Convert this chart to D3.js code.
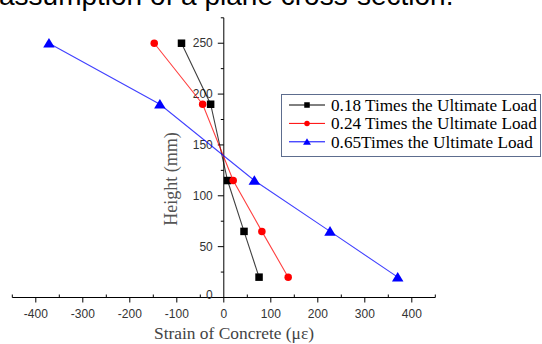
<!DOCTYPE html>
<html>
<head>
<meta charset="utf-8">
<script src="https://cdn.jsdelivr.net/npm/d3@7"></script>
<style>
  html, body { margin: 0; padding: 0; background: #fff; overflow: hidden; }
  svg { display: block; }
</style>
</head>
<body>
<div id="chart"></div>
<script>
// data
const heights = [250, 190, 115, 65, 20];
const strain018 = [-90, -28, 8, 43, 75];
const strain024 = [-148, -45, 20, 81, 137];
const strain065 = [-372, -136, 65, 226, 370];
const seriesNames = [
  "0.18 Times the Ultimate Load",
  "0.24 Times the Ultimate Load",
  "0.65Times the Ultimate Load"
];
const seriesColors = ["#000000", "#ff0000", "#0000ff"];
const seriesShapes = ["square", "circle", "triangle"];
const xTicks = [-400, -300, -200, -100, 0, 100, 200, 300, 400];
const yTicks = [0, 50, 100, 150, 200, 250];

const width = 542, height = 344;

const svg = d3.select("#chart").append("svg")
  .attr("width", width)
  .attr("height", height);

const x = d3.scaleLinear().domain([-450, 450]).range([12.3, 435.3]);
const y = d3.scaleLinear().domain([0, 275]).range([297.5, 17.8]);

// caption fragment, cut off at the top edge as in the source figure
svg.append("text")
  .attr("x", -1)
  .attr("y", 4.5)
  .attr("font-family", "Liberation Sans, Arial, sans-serif")
  .attr("font-size", 28)
  .attr("fill", "#000")
  .text("assumption of a plane cross-section.");

const axisColor = "#000";
const labelColor = "#333";

// x axis
const xg = svg.append("g").attr("transform", `translate(0,${y(0)})`);
xg.append("line")
  .attr("x1", x(-450)).attr("x2", x(450))
  .attr("stroke", axisColor).attr("stroke-width", 1);
xg.selectAll(".xtick")
  .data(d3.range(-450, 451, 50))
  .join("line")
  .attr("x1", d => x(d)).attr("x2", d => x(d))
  .attr("y1", d => d % 100 === 0 ? 0 : -3)
  .attr("y2", d => d % 100 === 0 ? 5 : 0)
  .attr("stroke", axisColor);
xg.selectAll(".xlabel")
  .data(xTicks)
  .join("text")
  .attr("x", d => x(d))
  .attr("y", 20)
  .attr("text-anchor", "middle")
  .attr("font-family", "Liberation Sans, Arial, sans-serif")
  .attr("font-size", 12)
  .attr("fill", labelColor)
  .text(d => d);

// y axis
const yg = svg.append("g").attr("transform", `translate(${x(0)},0)`);
yg.append("line")
  .attr("y1", y(0)).attr("y2", y(275))
  .attr("stroke", axisColor).attr("stroke-width", 1);
yg.selectAll(".ytick")
  .data(d3.range(25, 276, 25))
  .join("line")
  .attr("y1", d => y(d)).attr("y2", d => y(d))
  .attr("x1", d => d % 50 === 0 ? -6 : -3)
  .attr("x2", 0)
  .attr("stroke", axisColor);
yg.selectAll(".ylabel")
  .data(yTicks)
  .join("text")
  .attr("x", -11)
  .attr("y", d => y(d))
  .attr("dy", d => d === 0 ? "0.1em" : "0.35em")
  .attr("text-anchor", "end")
  .attr("font-family", "Liberation Sans, Arial, sans-serif")
  .attr("font-size", 12)
  .attr("fill", labelColor)
  .text(d => d);

// axis titles
svg.append("text")
  .attr("x", 234)
  .attr("y", 339)
  .attr("text-anchor", "middle")
  .attr("font-family", "Liberation Serif, Times New Roman, serif")
  .attr("font-size", 17.4)
  .attr("fill", "#444")
  .text("Strain of Concrete (\u03bc\u03b5)");

svg.append("text")
  .attr("transform", "translate(177,179) rotate(-90)")
  .attr("text-anchor", "middle")
  .attr("font-family", "Liberation Serif, Times New Roman, serif")
  .attr("font-size", 18)
  .attr("fill", "#555")
  .text("Height (mm)");

// series
const seriesData = [strain018, strain024, strain065].map((vals, i) => ({
  name: seriesNames[i],
  color: seriesColors[i],
  shape: seriesShapes[i],
  points: vals.map((v, j) => ({ strain: v, h: heights[j] }))
}));

const line = d3.line().x(d => x(d.strain)).y(d => y(d.h));

function drawMarker(g, shape, color, size) {
  if (shape === "square") {
    g.append("rect")
      .attr("x", -size / 2).attr("y", -size / 2)
      .attr("width", size).attr("height", size)
      .attr("fill", color);
  } else if (shape === "circle") {
    g.append("circle").attr("r", size / 2).attr("fill", color);
  } else {
    const s = size * 1.2;
    g.append("path")
      .attr("d", `M0,${-s * 0.55}L${s * 0.6},${s * 0.45}L${-s * 0.6},${s * 0.45}Z`)
      .attr("fill", color);
  }
}

seriesData.forEach(s => {
  svg.append("path")
    .datum(s.points)
    .attr("d", line)
    .attr("fill", "none")
    .attr("stroke", s.color)
    .attr("stroke-opacity", 0.75)
    .attr("stroke-width", 1.1);
});
seriesData.forEach(s => {
  s.points.forEach(p => {
    const g = svg.append("g").attr("transform", `translate(${x(p.strain)},${y(p.h)})`);
    drawMarker(g, s.shape, s.color, s.shape === "triangle" ? 8 : 7.5);
  });
});

// legend
const legend = svg.append("g");
legend.append("rect")
  .attr("x", 281.5).attr("y", 94.5)
  .attr("width", 259).attr("height", 62)
  .attr("fill", "#fff")
  .attr("stroke", "#5d6d8e")
  .attr("stroke-width", 1);
seriesData.forEach((s, i) => {
  const ly = 105 + i * 18.4;
  legend.append("line")
    .attr("x1", 289).attr("x2", 325)
    .attr("y1", ly).attr("y2", ly)
    .attr("stroke", s.color);
  const g = legend.append("g").attr("transform", `translate(307,${ly})`);
  drawMarker(g, s.shape, s.color, 5.5);
  legend.append("text")
    .attr("x", 331)
    .attr("y", ly)
    .attr("dy", "0.35em")
    .attr("font-family", "Liberation Serif, Times New Roman, serif")
    .attr("font-size", 17.2)
    .attr("fill", "#000")
    .text(s.name);
});
</script>
</body>
</html>
